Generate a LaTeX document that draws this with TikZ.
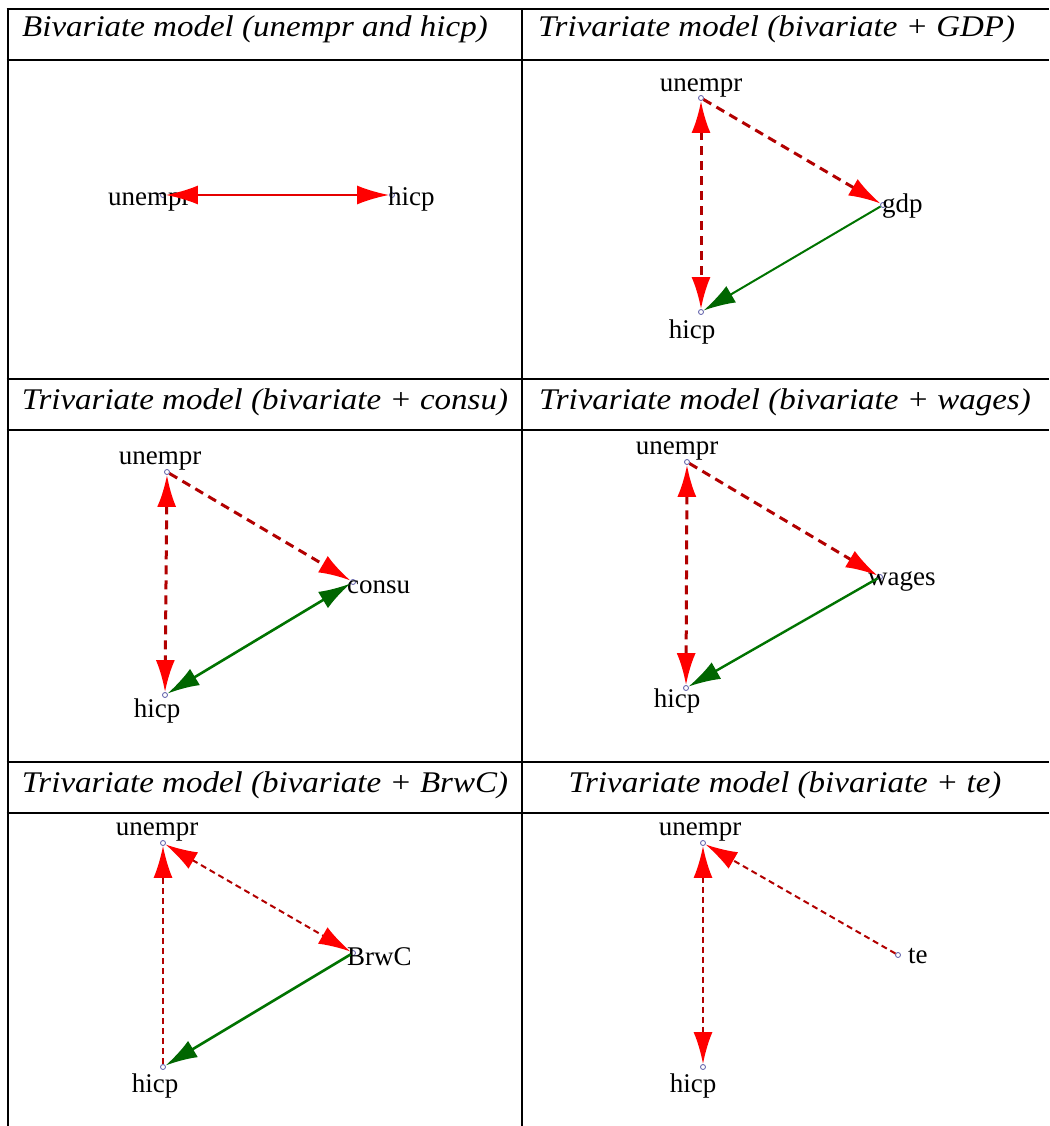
\documentclass[tikz,border=0pt]{standalone}
\usepackage{fontspec}
\setmainfont{Liberation Serif}
\newfontfamily\headfam[FakeStretch=1.1]{Liberation Serif}
\usetikzlibrary{arrows.meta}

\newcommand\headfont{\headfam\fontsize{30}{36}\selectfont\itshape}
\newcommand\varfont{\fontsize{27}{32}\selectfont}

\begin{document}
\begin{tikzpicture}[
    x=1pt, y=-1pt,
    rtip/.tip={Latex[length=32pt, width=19pt, color=red]},
    gtip/.tip={Latex[length=32pt, width=19pt, color=green!40!black]},
    rule/.style={line width=2.7pt},
    head/.style={font=\headfont, inner sep=0pt},
    var/.style={circle, draw=blue!30!gray, fill=white, line width=0.8pt,
                inner sep=0pt, minimum size=5pt},
    lbl/.style={font=\varfont, inner sep=0pt},
    link/.style={draw=red!90!black, line width=2.2pt},
    dep/.style={draw=red!70!black, line width=3pt, dash pattern=on 9pt off 6pt},
    thindep/.style={dep, line width=2pt, dash pattern=on 6pt off 4pt},
    caus/.style={draw=green!45!black, line width=2pt},
]
\useasboundingbox (0,0) rectangle (1049,1126);

% ---- Table rules ---------------------------------------------------
\foreach \ry in {9,60,379,430,762,813}
    \draw[rule] (6.65,\ry) -- (1049,\ry);
\foreach \rx in {8,522}
    \draw[rule] (\rx,9) -- (\rx,1126);

% ---- Headers -------------------------------------------------------
\node[head, anchor=base west] (hd1) at (22,37) {Bivariate model (unempr and hicp)};
\node[head, anchor=base west] (hd2) at (538,37) {Trivariate model (bivariate + GDP)};
\node[head, anchor=base] (hd3) at (265,409) {Trivariate model (bivariate + consu)};
\node[head, anchor=base] (hd4) at (785,409) {Trivariate model (bivariate + wages)};
\node[head, anchor=base] (hd5) at (265,792) {Trivariate model (bivariate + BrwC)};
\node[head, anchor=base] (hd6) at (785,792) {Trivariate model (bivariate + te)};

% ---- Panel 1: unempr, hicp ----------------------------------------
\node[var] (u1) at (163,195) {};
\node[var] (h1) at (392,195) {};
\node[lbl, anchor=base west] (u1l) at (108,205) {unempr};
\node[lbl, anchor=base west] (h1l) at (388,205) {hicp};
\draw[link, rtip-rtip] (u1) -- (h1);

% ---- Panel 2: + gdp ------------------------------------------------
\node[var] (u2) at (701,98) {};
\node[var] (g2) at (883,205) {};
\node[var] (h2) at (701,312) {};
\node[lbl, anchor=base] (u2l) at (701,92) {unempr};
\node[lbl, anchor=base west] (g2l) at (882,212) {gdp};
\node[lbl, anchor=base] (h2l) at (692,338) {hicp};
\draw[dep, rtip-rtip] (u2) -- (h2);
\draw[dep, -rtip] (u2) -- (g2);
\draw[caus, -gtip] (g2) -- (h2);

% ---- Panel 3: + consu ----------------------------------------------
\node[var] (u3) at (167,472) {};
\node[var] (c3) at (353,582) {};
\node[var] (h3) at (165,695) {};
\node[lbl, anchor=base] (u3l) at (160,464) {unempr};
\node[lbl, anchor=base west] (c3l) at (347,593) {consu};
\node[lbl, anchor=base] (h3l) at (157,717) {hicp};
\draw[dep, rtip-rtip] (u3) -- (h3);
\draw[dep, -rtip] (u3) -- (c3);
\draw[caus, line width=2.6pt, gtip-gtip] (c3) -- (h3);

% ---- Panel 4: + wages ----------------------------------------------
\node[var] (u4) at (687,462) {};
\node[var] (w4) at (880,577) {};
\node[var] (h4) at (686,688) {};
\node[lbl, anchor=base] (u4l) at (677,454) {unempr};
\node[lbl, anchor=base west] (w4l) at (868,585) {wages};
\node[lbl, anchor=base] (h4l) at (677,707) {hicp};
\draw[dep, rtip-rtip] (u4) -- (h4);
\draw[dep, -rtip] (u4) -- (w4);
\draw[caus, line width=2.4pt, -gtip] (w4) -- (h4);

% ---- Panel 5: + BrwC -----------------------------------------------
\node[var] (u5) at (163,843) {};
\node[var] (b5) at (353,953) {};
\node[var] (h5) at (163,1067) {};
\node[lbl, anchor=base] (u5l) at (157,835) {unempr};
\node[lbl, anchor=base west] (b5l) at (347,965) {BrwC};
\node[lbl, anchor=base] (h5l) at (155,1092) {hicp};
\draw[thindep, -rtip] (h5) -- (u5);
\draw[thindep, rtip-rtip] (u5) -- (b5);
\draw[caus, line width=2.6pt, -gtip] (b5) -- (h5);

% ---- Panel 6: + te -------------------------------------------------
\node[var] (u6) at (703,843) {};
\node[var] (t6) at (898,955) {};
\node[var] (h6) at (703,1067) {};
\node[lbl, anchor=base] (u6l) at (700,835) {unempr};
\node[lbl, anchor=base west] (t6l) at (908,963) {te};
\node[lbl, anchor=base] (h6l) at (693,1092) {hicp};
\draw[thindep, line width=2.5pt, rtip-rtip] (u6) -- (h6);
\draw[thindep, -rtip] (t6) -- (u6);

\end{tikzpicture}
\end{document}
